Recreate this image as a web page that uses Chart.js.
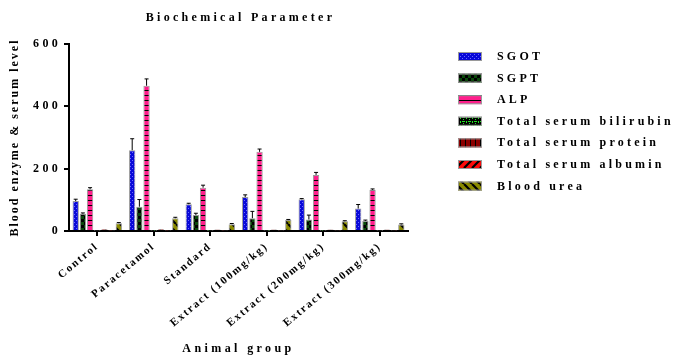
<!DOCTYPE html>
<html>
<head>
<meta charset="utf-8">
<script src="https://cdn.jsdelivr.net/npm/chart.js@4/dist/chart.umd.min.js"></script>
<style>
  html, body { margin: 0; padding: 0; background: #fff; }
  #wrap { width: 676px; height: 356px; }
</style>
</head>
<body>
<div id="wrap"><canvas id="chart" width="676" height="356"></canvas></div>
<script>
const groups = ['Control', 'Paracetamol', 'Standard', 'Extract (100mg/kg)', 'Extract (200mg/kg)', 'Extract (300mg/kg)'];
const seriesNames = ['SGOT', 'SGPT', 'ALP', 'Total serum bilirubin', 'Total serum protein', 'Total serum albumin', 'Blood urea'];
const sgot = [96, 259, 86, 109, 102, 72];
const sgotErr = [6, 37, 3, 7, 2, 13];
const sgpt = [55, 78, 51, 41, 37, 32];
const sgptErr = [3, 23, 6, 22, 14, 3];
const alp = [134, 466, 139, 254, 180, 132];
const alpErr = [5, 22, 8, 9, 8, 3];
const bilirubin = [0.6, 0.6, 0.6, 0.6, 0.6, 0.6];
const protein = [6, 6, 5, 5, 5, 5];
const albumin = [2, 2, 2, 2, 2, 2];
const urea = [25, 41, 22, 35, 31, 21];
const ureaErr = [2, 3, 2, 2, 2, 2];
const yTicks = [0, 200, 400, 600];

const serif = "'Liberation Serif', 'Times New Roman', serif";

function tile(w, h, draw) {
  const c = document.createElement('canvas');
  c.width = w; c.height = h;
  const g = c.getContext('2d');
  draw(g, w, h);
  return g.createPattern(c, 'repeat');
}

const patSgot = tile(4, 4, (g) => {
  g.fillStyle = '#0808d8'; g.fillRect(0, 0, 4, 4);
  g.fillStyle = '#6a6aff'; g.fillRect(0, 0, 1, 1); g.fillRect(2, 2, 1, 1);
});
const patSgpt = tile(6, 6, (g) => {
  g.fillStyle = '#0a4a0a'; g.fillRect(0, 0, 6, 6);
  g.fillStyle = '#000'; g.fillRect(0, 0, 3, 3); g.fillRect(3, 3, 3, 3);
});
const patAlp = tile(4, 5, (g) => {
  g.fillStyle = '#ff1f8c'; g.fillRect(0, 0, 4, 5);
  g.fillStyle = '#000'; g.fillRect(0, 0, 4, 1);
});
const patBili = tile(6, 4, (g) => {
  g.fillStyle = '#000'; g.fillRect(0, 0, 6, 4);
  g.fillStyle = '#22e022'; g.fillRect(0, 1, 3, 1); g.fillRect(4, 1, 1, 2); g.fillRect(1, 3, 1, 1);
});
const patProt = tile(5, 5, (g) => {
  g.fillStyle = '#8b0000'; g.fillRect(0, 0, 5, 5);
  g.fillStyle = '#000'; g.fillRect(0, 0, 1, 5);
});
function stripes(bg, dir) {
  return tile(8, 8, (g) => {
    g.fillStyle = bg; g.fillRect(0, 0, 8, 8);
    g.strokeStyle = '#000'; g.lineWidth = 2.2;
    g.beginPath();
    for (let k = -1; k <= 1; k++) {
      if (dir > 0) { g.moveTo(k * 8, 8); g.lineTo(k * 8 + 8, 0); }
      else { g.moveTo(k * 8, 0); g.lineTo(k * 8 + 8, 8); }
    }
    g.stroke();
  });
}
const patAlb = stripes('#ff0a0a', 1);
const patUrea = stripes('#8a8a00', -1);

const values = [sgot, sgpt, alp, bilirubin, protein, albumin, urea];
const errors = [sgotErr, sgptErr, alpErr, null, null, null, ureaErr];
const fills = [patSgot, patSgpt, patAlp, patBili, patProt, patAlb, patUrea];

const datasets = seriesNames.map((name, i) => ({
  label: name,
  data: values[i],
  err: errors[i],
  backgroundColor: fills[i],
  borderColor: '#9a9a9a',
  borderWidth: 1,
  categoryPercentage: 0.89,
  barPercentage: 0.88
}));

// per-scale letter spacing
const spacing = {
  x: { labels: '1.8px', title: '3.4px' },
  y: { labels: '3.3px', title: '2px' }
};
const spacingPlugin = {
  id: 'spacing',
  afterUpdate(chart) {
    Object.values(chart.scales).forEach(scale => {
      if (scale._spaced) return;
      scale._spaced = true;
      const s = spacing[scale.id];
      const dl = scale.drawLabels, dt = scale.drawTitle;
      scale.drawLabels = function(a) { this.ctx.letterSpacing = s.labels; dl.call(this, a); this.ctx.letterSpacing = '0px'; };
      scale.drawTitle = function(a) { this.ctx.letterSpacing = s.title; dt.call(this, a); this.ctx.letterSpacing = '0px'; };
    });
  }
};

const errorBars = {
  id: 'errorBars',
  afterDatasetsDraw(chart) {
    const ctx = chart.ctx, y = chart.scales.y;
    ctx.save();
    ctx.strokeStyle = '#000';
    ctx.lineWidth = 1;
    chart.data.datasets.forEach((ds, i) => {
      if (!ds.err) return;
      chart.getDatasetMeta(i).data.forEach((bar, j) => {
        const top = y.getPixelForValue(ds.data[j] + ds.err[j]);
        ctx.beginPath();
        ctx.moveTo(bar.x, bar.y);
        ctx.lineTo(bar.x, top);
        ctx.moveTo(bar.x - 2, top);
        ctx.lineTo(bar.x + 2, top);
        ctx.stroke();
      });
    });
    ctx.restore();
  }
};

const titleAndLegend = {
  id: 'titleAndLegend',
  afterDraw(chart) {
    const ctx = chart.ctx, area = chart.chartArea;
    ctx.save();
    ctx.fillStyle = '#000';
    ctx.font = 'bold 12px ' + serif;
    ctx.letterSpacing = '3.3px';
    ctx.textAlign = 'center';
    ctx.textBaseline = 'middle';
    ctx.fillText('Biochemical Parameter', (area.left + area.right) / 2 + 2, 18);

    ctx.textAlign = 'left';
    ctx.letterSpacing = '3.2px';
    chart.data.datasets.forEach((ds, i) => {
      const cy = 56.5 + i * 21.6;
      ctx.fillStyle = ds.backgroundColor;
      ctx.fillRect(458, cy - 4.5, 24, 9);
      ctx.strokeStyle = '#9a9a9a';
      ctx.lineWidth = 1;
      ctx.strokeRect(458.5, cy - 4, 23, 8);
      ctx.fillStyle = '#000';
      ctx.fillText(ds.label, 497, cy + 0.5);
    });
    ctx.restore();
  }
};

new Chart(document.getElementById('chart'), {
  type: 'bar',
  data: { labels: groups, datasets: datasets },
  plugins: [spacingPlugin, errorBars, titleAndLegend],
  options: {
    responsive: false,
    animation: false,
    layout: { padding: { left: 0, right: 268, top: 44, bottom: 0 } },
    plugins: {
      legend: { display: false },
      title: { display: false },
      tooltip: { enabled: false }
    },
    scales: {
      x: {
        afterFit(scale) { scale.height = 125; },
        grid: { display: true, drawOnChartArea: false, drawTicks: true, tickLength: 5, color: '#000', lineWidth: 2, offset: false },
        border: { display: true, color: '#000', width: 2 },
        ticks: {
          color: '#000', padding: 4, minRotation: 40, maxRotation: 40, autoSkip: false,
          font: { family: serif, size: 11, weight: 'bold' }
        },
        title: {
          display: true, text: 'Animal group', color: '#000',
          font: { family: serif, size: 12, weight: 'bold' },
          padding: { top: 1, bottom: 0 }
        }
      },
      y: {
        min: 0, max: 600,
        afterFit(scale) { scale.width = 69; },
        afterBuildTicks(scale) { scale.ticks = yTicks.map(v => ({ value: v })); },
        grid: { display: true, drawOnChartArea: false, drawTicks: true, tickLength: 5, color: '#000', lineWidth: 2 },
        border: { display: true, color: '#000', width: 2 },
        ticks: {
          color: '#000', padding: 3,
          font: { family: serif, size: 12, weight: 'bold' }
        },
        title: {
          display: true, text: 'Blood enzyme & serum level', color: '#000',
          font: { family: serif, size: 12, weight: 'bold' },
          padding: { top: 8, bottom: 0 }
        }
      }
    }
  }
});
</script>
</body>
</html>
